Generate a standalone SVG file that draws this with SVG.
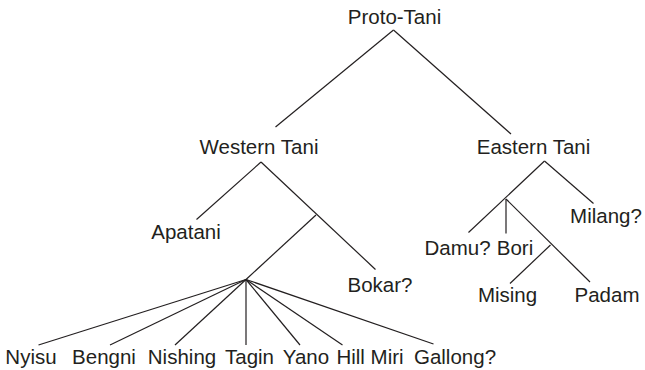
<svg xmlns="http://www.w3.org/2000/svg" width="645" height="370" viewBox="0 0 645 370">
<style>
text{font-family:"Liberation Sans",Arial,sans-serif;font-size:20.5px;fill:#231f20;text-anchor:middle}
.c line{stroke:#231f20;stroke-width:1.2;fill:none}
</style>
<rect width="645" height="370" fill="#fff"/>
<g class="c" id="connectors">
<line x1="393.5" y1="30" x2="275.5" y2="127"/>
<line x1="393.5" y1="30" x2="511" y2="134"/>
<line x1="261" y1="162" x2="196.5" y2="219.5"/>
<line x1="261" y1="162" x2="375.5" y2="269.5"/>
<line x1="316" y1="215" x2="246" y2="279.5"/>
<line x1="246" y1="279.5" x2="38.5" y2="345"/>
<line x1="246" y1="279.5" x2="110" y2="345"/>
<line x1="246" y1="279.5" x2="175" y2="345"/>
<line x1="246" y1="279.5" x2="246" y2="345"/>
<line x1="246" y1="279.5" x2="300" y2="345"/>
<line x1="246" y1="279.5" x2="342.5" y2="345"/>
<line x1="246" y1="279.5" x2="433.5" y2="344"/>
<line x1="544.5" y1="161" x2="593.5" y2="203.5"/>
<line x1="544.5" y1="161" x2="468.5" y2="232.5"/>
<line x1="506" y1="199" x2="506" y2="233.5"/>
<line x1="506" y1="199" x2="590" y2="282"/>
<line x1="550.5" y1="245" x2="510" y2="283.5"/>
</g>
<g id="proto-tani"><text x="394.5" y="24">Proto-Tani</text></g>
<g id="western-tani"><text x="259" y="154">Western Tani</text></g>
<g id="eastern-tani"><text x="533.5" y="154">Eastern Tani</text></g>
<g id="apatani"><text x="186" y="239">Apatani</text></g>
<g id="bokar"><text x="380" y="291.5">Bokar?</text></g>
<g id="nyisu"><text x="31" y="364">Nyisu</text></g>
<g id="bengni"><text x="104" y="364">Bengni</text></g>
<g id="nishing"><text x="182" y="364">Nishing</text></g>
<g id="tagin"><text x="249.5" y="364">Tagin</text></g>
<g id="yano"><text x="306" y="364">Yano</text></g>
<g id="hill-miri"><text x="370" y="364">Hill Miri</text></g>
<g id="gallong"><text x="455" y="364">Gallong?</text></g>
<g id="milang"><text x="606" y="223">Milang?</text></g>
<g id="damu"><text x="457.5" y="255">Damu?</text></g>
<g id="bori"><text x="515" y="255">Bori</text></g>
<g id="mising"><text x="507.5" y="301.5">Mising</text></g>
<g id="padam"><text x="607" y="301.5">Padam</text></g>
</svg>
